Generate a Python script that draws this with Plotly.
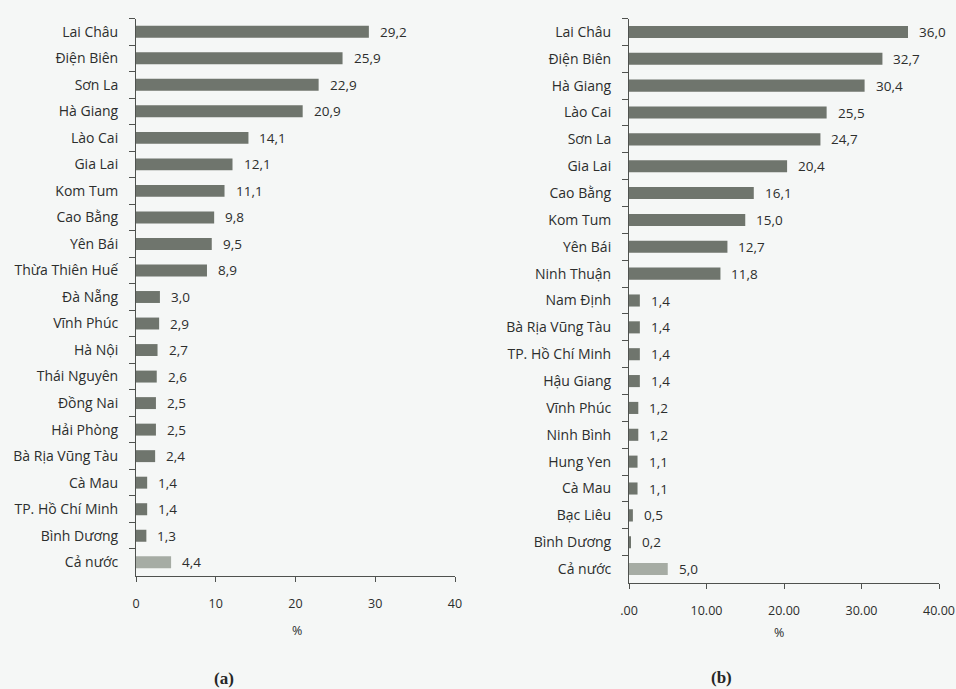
import plotly.graph_objects as go

# Panel (a)
provinces_a = ["Lai Châu", "Điện Biên", "Sơn La", "Hà Giang", "Lào Cai", "Gia Lai",
               "Kom Tum", "Cao Bằng", "Yên Bái", "Thừa Thiên Huế", "Đà Nẵng",
               "Vĩnh Phúc", "Hà Nội", "Thái Nguyên", "Đồng Nai", "Hải Phòng",
               "Bà Rịa Vũng Tàu", "Cà Mau", "TP. Hồ Chí Minh", "Bình Dương", "Cả nước"]
values_a = [29.2, 25.9, 22.9, 20.9, 14.1, 12.1, 11.1, 9.8, 9.5, 8.9, 3.0,
            2.9, 2.7, 2.6, 2.5, 2.5, 2.4, 1.4, 1.4, 1.3, 4.4]

# Panel (b)
provinces_b = ["Lai Châu", "Điện Biên", "Hà Giang", "Lào Cai", "Sơn La", "Gia Lai",
               "Cao Bằng", "Kom Tum", "Yên Bái", "Ninh Thuận", "Nam Định",
               "Bà Rịa Vũng Tàu", "TP. Hồ Chí Minh", "Hậu Giang", "Vĩnh Phúc",
               "Ninh Bình", "Hung Yen", "Cà Mau", "Bạc Liêu", "Bình Dương", "Cả nước"]
values_b = [36.0, 32.7, 30.4, 25.5, 24.7, 20.4, 16.1, 15.0, 12.7, 11.8, 1.4,
            1.4, 1.4, 1.4, 1.2, 1.2, 1.1, 1.1, 0.5, 0.2, 5.0]

ticks_x = [0, 10, 20, 30, 40]
ticktext_a = ["0", "10", "20", "30", "40"]
ticktext_b = [".00", "10.00", "20.00", "30.00", "40.00"]

W, H = 956, 689
FONT = "Open Sans"
TXT = "#2c2e2d"
BAR = "#6f756d"
BAR_TOTAL = "#a6aca4"
AXIS = "#4f524f"
BG = "#f5f7f6"


def bar_colors(names):
    return [BAR_TOTAL if n == "Cả nước" else BAR for n in names]


def comma(v):
    return f"{v:.1f}".replace(".", ",")


fig = go.Figure()
fig.add_trace(go.Bar(
    x=values_a, y=provinces_a, orientation="h", width=0.45,
    marker=dict(color=bar_colors(provinces_a), line=dict(width=0)),
    xaxis="x", yaxis="y", showlegend=False, hoverinfo="x+y"))
fig.add_trace(go.Bar(
    x=values_b, y=provinces_b, orientation="h", width=0.45,
    marker=dict(color=bar_colors(provinces_b), line=dict(width=0)),
    xaxis="x2", yaxis="y2", showlegend=False, hoverinfo="x+y"))

annotations = []
for names, vals, xr, yr in [(provinces_a, values_a, "x", "y"),
                            (provinces_b, values_b, "x2", "y2")]:
    for n, v in zip(names, vals):
        annotations.append(dict(
            x=v, y=n, xref=xr, yref=yr, text=comma(v), showarrow=False,
            xanchor="left", xshift=9, font=dict(family=FONT, size=13.5, color=TXT)))


def px(x):
    return x / W


def py(y):
    return 1 - y / H


for txt, x, y in [("%", 297, 630), ("%", 779, 632)]:
    annotations.append(dict(x=px(x), y=py(y), xref="paper", yref="paper", text=txt,
                            xanchor="center", yanchor="middle", showarrow=False,
                            font=dict(family=FONT, size=12.5, color=TXT)))
for txt, x, y in [("(a)", 224, 678), ("(b)", 721, 677)]:
    annotations.append(dict(x=px(x), y=py(y), xref="paper", yref="paper",
                            text=f"<b>{txt}</b>", xanchor="center", yanchor="middle",
                            showarrow=False,
                            font=dict(family="Liberation Serif", size=17, color="#262726")))

xcommon = dict(range=[0, 40], tickvals=ticks_x, showline=True, linecolor=AXIS,
               linewidth=1, ticks="outside", ticklen=5, tickcolor=AXIS,
               showgrid=False, zeroline=False, ticklabelstandoff=11, automargin=False,
               tickfont=dict(family=FONT, size=12.5, color=TXT), fixedrange=True)
ycommon = dict(type="category", autorange="reversed", showline=True, linecolor=AXIS,
               linewidth=1, ticks="outside", tickson="boundaries", ticklen=6,
               tickcolor=AXIS, showgrid=False, zeroline=False, ticklabelstandoff=14,
               automargin=False,
               tickfont=dict(family=FONT, size=14, color=TXT), fixedrange=True)

fig.update_layout(
    width=W, height=H,
    margin=dict(l=0, r=0, t=0, b=0),
    paper_bgcolor=BG, plot_bgcolor=BG,
    bargap=0.55,
    xaxis=dict(domain=[px(136), px(455)], anchor="y", ticktext=ticktext_a, **xcommon),
    yaxis=dict(domain=[py(575.5), py(18.5)], anchor="x", categoryarray=provinces_a,
               **ycommon),
    xaxis2=dict(domain=[px(629), px(939)], anchor="y2", ticktext=ticktext_b, **xcommon),
    yaxis2=dict(domain=[py(582.5), py(18.5)], anchor="x2", categoryarray=provinces_b,
                **ycommon),
    annotations=annotations,
)

fig.write_html("out.html")
